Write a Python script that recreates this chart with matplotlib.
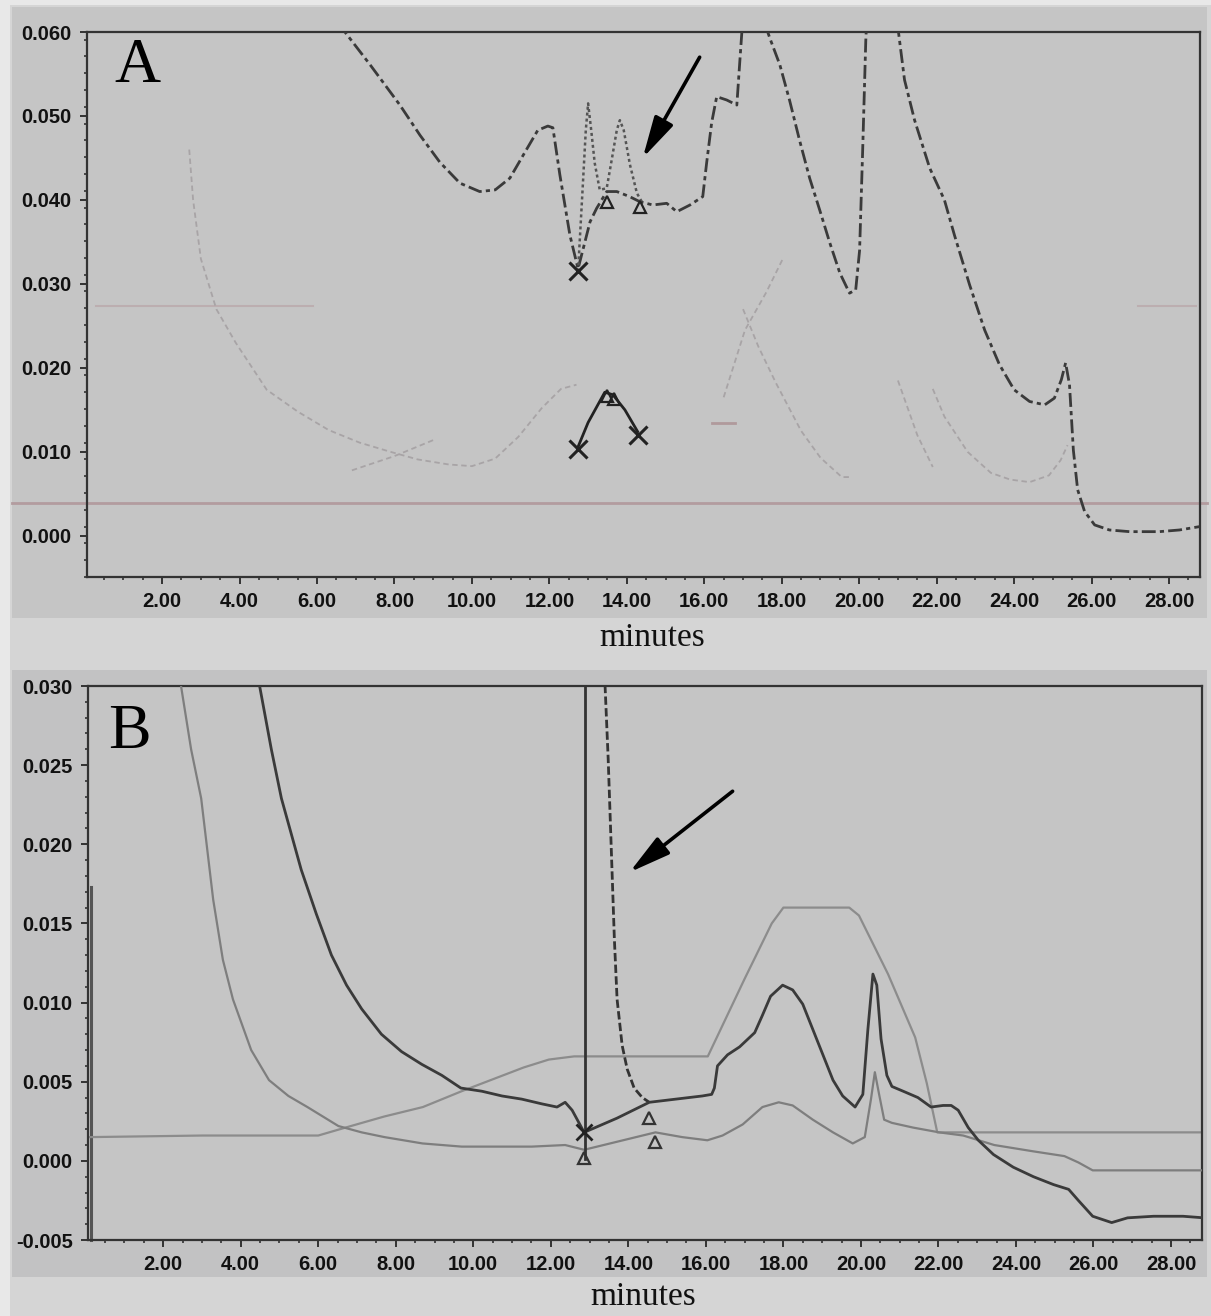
import matplotlib
matplotlib.use("Agg")
import matplotlib.pyplot as plt
from matplotlib.patches import Rectangle
import numpy as np

# ---------------- Panel A data (minutes, absorbance) ----------------
A_main_t = [6.0, 6.72, 7.37, 8.14, 8.66, 9.17, 9.69, 10.2, 10.6, 10.98, 11.37, 11.7, 11.96, 12.09,
            12.27, 12.53, 12.74, 13.05, 13.22, 13.48, 13.74, 14.07, 14.33, 14.67, 15.03, 15.29,
            15.63, 15.96, 16.06, 16.19, 16.32, 16.58, 16.84, 16.92, 16.97, 17.3, 17.6, 17.69,
            17.95, 18.2, 18.46, 18.72, 18.98, 19.24, 19.5, 19.75, 19.91, 20.01, 20.09, 20.17,
            20.22, 20.5, 21.0, 21.17, 21.43, 21.82, 22.2, 22.46, 22.85, 23.24, 23.62, 24.0, 24.4,
            24.79, 25.04, 25.22, 25.33, 25.43, 25.53, 25.64, 25.82, 26.08, 26.46, 26.98, 27.75,
            28.27, 28.79]
A_main_v = [0.066, 0.060, 0.0561, 0.0513, 0.0477, 0.0445, 0.0420, 0.0410, 0.0412, 0.0426, 0.0457,
            0.0483, 0.0488, 0.0486, 0.0430, 0.0358, 0.0318, 0.0374, 0.0390, 0.0410, 0.0410, 0.0404,
            0.0398, 0.0394, 0.0396, 0.0386, 0.0394, 0.0404, 0.0444, 0.0492, 0.0523, 0.0519,
            0.0513, 0.0567, 0.0600, 0.064, 0.0605, 0.0593, 0.0561, 0.0519, 0.0471, 0.0426,
            0.0388, 0.0349, 0.0313, 0.0289, 0.0293, 0.0340, 0.0460, 0.0590, 0.064, 0.066,
            0.0605, 0.0543, 0.0495, 0.0438, 0.0400, 0.0358, 0.0299, 0.0245, 0.0204, 0.0174,
            0.0160, 0.0156, 0.0164, 0.0186, 0.0206, 0.0180, 0.0102, 0.0055, 0.0029, 0.0013,
            0.0007, 0.0005, 0.0005, 0.0007, 0.0011]

A_peaks_t = [12.74, 12.86, 12.94, 13.0, 13.08, 13.17, 13.3, 13.48, 13.61, 13.74, 13.82, 13.92,
             14.08, 14.26, 14.41]
A_peaks_v = [0.0315, 0.0415, 0.0483, 0.0515, 0.0483, 0.0444, 0.0412, 0.0414, 0.0448, 0.0483,
             0.0495, 0.0483, 0.0442, 0.0408, 0.0396]

A_low_t = [12.74, 13.0, 13.43, 13.64, 13.95, 14.28]
A_low_v = [0.0106, 0.0135, 0.0171, 0.0168, 0.0150, 0.0124]

A_faint1_t = [2.7, 2.8, 3.0, 3.4, 3.9, 4.7, 5.5, 6.3, 7.1, 7.9, 8.6, 9.4, 10.0, 10.6, 11.2,
              11.8, 12.3, 12.7]
A_faint1_v = [0.046, 0.040, 0.033, 0.027, 0.023, 0.0174, 0.0148, 0.0126, 0.0111, 0.0100,
              0.0091, 0.0085, 0.0083, 0.0092, 0.0118, 0.0152, 0.0175, 0.0180]
A_faint2_t = [6.9, 8.0, 9.0]
A_faint2_v = [0.0078, 0.0095, 0.0114]
A_faint3_t = [16.5, 17.05, 17.6, 18.05]
A_faint3_v = [0.0165, 0.0245, 0.029, 0.0332]
A_faint4_t = [17.0, 17.4, 17.85, 18.5, 19.0, 19.55, 19.8]
A_faint4_v = [0.027, 0.0225, 0.0182, 0.0125, 0.0093, 0.0070, 0.0070]
A_faint5_t = [21.0, 21.5, 21.9]
A_faint5_v = [0.0185, 0.012, 0.0082]
A_faint6_t = [21.9, 22.2, 22.8, 23.4, 23.9, 24.4, 24.9, 25.2, 25.38]
A_faint6_v = [0.0175, 0.0142, 0.0100, 0.0075, 0.0067, 0.0064, 0.0072, 0.0090, 0.0108]
A_dash_t = [16.2, 16.8]
A_dash_v = [0.0134, 0.0134]
A_base_level = 0.0039
A_ghost_t = [0.3, 5.9]
A_ghost2_t = [27.2, 28.7]
A_ghost_v = [0.0274, 0.0274]

A_x_t = [12.74, 12.74, 14.28]
A_x_v = [0.0315, 0.0104, 0.0120]
A_tri_t = [13.48, 14.33, 13.5, 13.66]
A_tri_v = [0.0398, 0.0392, 0.0166, 0.0163]

A_arrow_tail = (15.88, 0.0570)
A_arrow_head = (14.41, 0.0450)

# ---------------- Panel B data ----------------
B1_t = [4.3, 4.48, 4.79, 5.05, 5.56, 5.95, 6.34, 6.73, 7.12, 7.63, 8.15, 8.67, 9.19, 9.68,
        10.22, 10.74, 11.25, 11.77, 12.16, 12.37, 12.55, 12.86, 13.71, 14.54, 15.91, 16.15,
        16.22, 16.3, 16.56, 16.87, 17.26, 17.46, 17.67, 17.98, 18.24, 18.5, 18.76, 19.02,
        19.28, 19.53, 19.85, 20.05, 20.18, 20.31, 20.41, 20.52, 20.67, 20.8, 21.09, 21.47,
        21.81, 22.12, 22.33, 22.51, 22.77, 23.03, 23.42, 23.93, 24.45, 24.97, 25.36, 25.61,
        25.98, 26.47, 26.88, 27.55, 28.31, 28.85]
B1_v = [0.032, 0.0301, 0.0260, 0.0229, 0.0184, 0.0156, 0.0130, 0.0111, 0.0096, 0.0080, 0.0069,
        0.0061, 0.0054, 0.0046, 0.0044, 0.0041, 0.0039, 0.0036, 0.0034, 0.0037, 0.0032,
        0.0018, 0.0027, 0.0037, 0.0041, 0.0042, 0.0046, 0.0060, 0.0067, 0.0072, 0.0081,
        0.0092, 0.0104, 0.0111, 0.0108, 0.0099, 0.0083, 0.0067, 0.0051, 0.0041, 0.0034,
        0.0042, 0.0083, 0.0118, 0.0111, 0.0077, 0.0054, 0.0047, 0.0044, 0.0040, 0.0034,
        0.0035, 0.0035, 0.0032, 0.0021, 0.0013, 0.0004, -0.0004, -0.0010, -0.0015, -0.0018,
        -0.0025, -0.0035, -0.0039, -0.0036, -0.0035, -0.0035, -0.0036]

B_peak_t = [13.25, 13.4, 13.48, 13.56, 13.64, 13.71, 13.84, 13.97, 14.15, 14.36, 14.54]
B_peak_v = [0.033, 0.030, 0.0254, 0.0197, 0.0140, 0.0102, 0.0073, 0.0058, 0.0046, 0.0040, 0.0037]

B_vert_t = [12.88, 12.88]
B_vert_v = [0.031, 0.0001]

B3_t = [2.4, 2.46, 2.72, 2.98, 3.29, 3.54, 3.8, 4.27, 4.73, 5.23, 5.72, 6.52, 7.12, 7.71,
        8.69, 9.7, 10.66, 11.51, 12.37, 12.86, 14.7, 15.39, 16.04, 16.43, 16.95, 17.46,
        17.88, 18.24, 18.76, 19.28, 19.79, 20.1, 20.26, 20.36, 20.47, 20.6, 20.8, 21.35,
        22.02, 22.64, 23.44, 24.45, 25.25, 25.61, 25.98, 27.55, 28.9]
B3_v = [0.032, 0.030, 0.026, 0.0229, 0.0165, 0.0127, 0.0102, 0.0070, 0.0051, 0.0041, 0.0034,
        0.0022, 0.0018, 0.0015, 0.0011, 0.0009, 0.0009, 0.0009, 0.0010, 0.0007, 0.0018,
        0.0015, 0.0013, 0.0016, 0.0023, 0.0034, 0.0037, 0.0035, 0.0026, 0.0018, 0.0011,
        0.0015, 0.0039, 0.0056, 0.0042, 0.0026, 0.0024, 0.0021, 0.0018, 0.0016, 0.0010,
        0.0006, 0.0003, -0.0001, -0.0006, -0.0006, -0.0006]

B4_t = [0.1, 3.0, 6.0, 6.7, 7.7, 8.7, 9.7, 10.66, 11.3, 11.95, 12.6, 13.3, 16.05, 17.0, 17.7,
        18.0, 19.7, 19.95, 20.7, 21.4, 21.7, 21.97, 24.0, 28.9]
B4_v = [0.0015, 0.0016, 0.0016, 0.0021, 0.0028, 0.0034, 0.0044, 0.0053, 0.0059, 0.0064,
        0.0066, 0.0066, 0.0066, 0.0115, 0.0150, 0.0160, 0.0160, 0.0155, 0.0118, 0.0078,
        0.0049, 0.0018, 0.0018, 0.0018]

B_edge_t = [0.13, 0.13]
B_edge_v = [0.0173, -0.005]

B_x_t = [12.86]
B_x_v = [0.0018]
B_tri_t = [12.86, 14.54, 14.7]
B_tri_v = [0.0002, 0.0027, 0.0012]

B_arrow_tail = (16.69, 0.02335)
B_arrow_head = (14.03, 0.01823)

x_major = [2, 4, 6, 8, 10, 12, 14, 16, 18, 20, 22, 24, 26, 28]
x_labels = ["2.00", "4.00", "6.00", "8.00", "10.00", "12.00", "14.00", "16.00", "18.00",
            "20.00", "22.00", "24.00", "26.00", "28.00"]
A_yticks = [0.000, 0.010, 0.020, 0.030, 0.040, 0.050, 0.060]
A_ylabels = ["0.000", "0.010", "0.020", "0.030", "0.040", "0.050", "0.060"]
B_yticks = [-0.005, 0.000, 0.005, 0.010, 0.015, 0.020, 0.025, 0.030]
B_ylabels = ["-0.005", "0.000", "0.005", "0.010", "0.015", "0.020", "0.025", "0.030"]

# ---------------- Figure ----------------
W, H = 1211, 1316
fig = plt.figure(figsize=(W / 100, H / 100), dpi=100, facecolor="#d5d5d5")

def fig_rect(x0, y0, x1, y1, color):
    fig.patches.append(Rectangle((x0 / W, 1 - y1 / H), (x1 - x0) / W, (y1 - y0) / H,
                                 transform=fig.transFigure, facecolor=color,
                                 edgecolor="none", zorder=-5))

fig_rect(0, 0, 10, H, "#e8e8e8")
fig_rect(0, 0, W, 5, "#e8e8e8")
fig_rect(12, 7, 1207, 618, "#c5c5c5")
fig_rect(12, 670, 1207, 1277, "#c2c2c3")

axA = fig.add_axes([87 / W, 1 - 577 / H, (1200 - 87) / W, (577 - 32) / H])
axB = fig.add_axes([88 / W, 1 - 1240 / H, (1202 - 88) / W, (1240 - 686) / H])

tick_font = dict(family="Liberation Sans", weight="bold", size=14.5)

def style_axes(ax, yticks, ylabels, ylim, yminor):
    ax.set_facecolor("#c5c5c5")
    ax.set_xlim(0.06, 28.8)
    ax.set_ylim(*ylim)
    ax.set_xticks(x_major)
    ax.set_xticklabels(x_labels, fontdict=tick_font)
    ax.set_xticks(np.arange(0.5, 28.8, 0.5), minor=True)
    ax.set_yticks(yticks)
    ax.set_yticklabels(ylabels, fontdict=tick_font)
    ax.set_yticks(np.arange(ylim[0], ylim[1] + 1e-9, yminor), minor=True)
    for s in ax.spines.values():
        s.set_linewidth(1.6)
        s.set_color("#333333")
    ax.tick_params(axis="both", which="major", length=5, width=1.4, color="#333333",
                   pad=6, labelcolor="#111111")
    ax.tick_params(axis="both", which="minor", length=2.5, width=1.2, color="#333333")

style_axes(axA, A_yticks, A_ylabels, (-0.0049, 0.060), 0.002)
style_axes(axB, B_yticks, B_ylabels, (-0.005, 0.030), 0.001)

dark = "#3a3a3a"
faint = "#a8a4a6"

# Panel A
axA.axhline(A_base_level, xmin=-0.067, xmax=1.006, color="#b39c9f", lw=2.0, clip_on=False, zorder=1)
axA.plot(A_ghost_t, A_ghost_v, color="#bcaeb0", lw=1.5, zorder=1)
axA.plot(A_ghost2_t, A_ghost_v, color="#bcaeb0", lw=1.5, zorder=1)
for t, v in [(A_faint1_t, A_faint1_v), (A_faint2_t, A_faint2_v), (A_faint3_t, A_faint3_v),
             (A_faint4_t, A_faint4_v), (A_faint5_t, A_faint5_v), (A_faint6_t, A_faint6_v)]:
    axA.plot(t, v, color=faint, lw=1.3, ls=(0, (3, 2)), zorder=2)
axA.plot(A_dash_t, A_dash_v, color="#b09a9c", lw=2.0, zorder=2)
axA.plot(A_main_t, A_main_v, color=dark, lw=2.0, ls=(0, (5, 1.5, 1.5, 1.5)), zorder=3)
axA.plot(A_peaks_t, A_peaks_v, color="#555555", lw=1.8, ls=(0, (1.2, 1.2)), zorder=3)
axA.plot(A_low_t, A_low_v, color="#222222", lw=2.0, zorder=3)
axA.plot(A_x_t, A_x_v, ls="none", marker="x", ms=13, mew=2.2, color="#222222", zorder=4)
axA.plot(A_tri_t, A_tri_v, ls="none", marker="^", ms=8, mew=1.6, mfc="none",
         mec="#222222", zorder=4)
axA.annotate("", xy=A_arrow_head, xytext=A_arrow_tail,
             arrowprops=dict(arrowstyle="-|>,head_length=1.4,head_width=0.35",
                             lw=2.6, color="black", mutation_scale=18, shrinkA=0, shrinkB=0))
axA.text(0.045, 0.935, "A", transform=axA.transAxes, family="Liberation Serif",
         fontsize=46, ha="center", va="center", color="black")

# Panel B
axB.plot(B_edge_t, B_edge_v, color="#555555", lw=2.2, zorder=2, clip_on=False)
axB.plot(B4_t, B4_v, color="#8c8c8c", lw=1.6, zorder=2)
axB.plot(B3_t, B3_v, color="#7e7e7e", lw=1.6, zorder=3)
axB.plot(B_vert_t, B_vert_v, color="#333333", lw=2.0, zorder=3)
axB.plot(B_peak_t, B_peak_v, color="#333333", lw=2.0, ls=(0, (3, 1.2)), zorder=3)
axB.plot(B1_t, B1_v, color="#3a3a3a", lw=2.0, zorder=4)
axB.plot(B_x_t, B_x_v, ls="none", marker="x", ms=11, mew=2.0, color="#222222", zorder=5)
axB.plot(B_tri_t, B_tri_v, ls="none", marker="^", ms=9, mew=1.6, mfc="none",
         mec="#333333", zorder=5)
axB.annotate("", xy=B_arrow_head, xytext=B_arrow_tail,
             arrowprops=dict(arrowstyle="-|>,head_length=1.4,head_width=0.35",
                             lw=2.6, color="black", mutation_scale=18, shrinkA=0, shrinkB=0))
axB.text(0.037, 0.915, "B", transform=axB.transAxes, family="Liberation Serif",
         fontsize=46, ha="center", va="center", color="black")

fig.text(652 / W, 1 - 638 / H, "minutes", family="Liberation Serif", fontsize=24,
         ha="center", va="center", color="#111111")
fig.text(643 / W, 1 - 1297 / H, "minutes", family="Liberation Serif", fontsize=24,
         ha="center", va="center", color="#111111")

fig.savefig("out.png", dpi=100, facecolor=fig.get_facecolor())
